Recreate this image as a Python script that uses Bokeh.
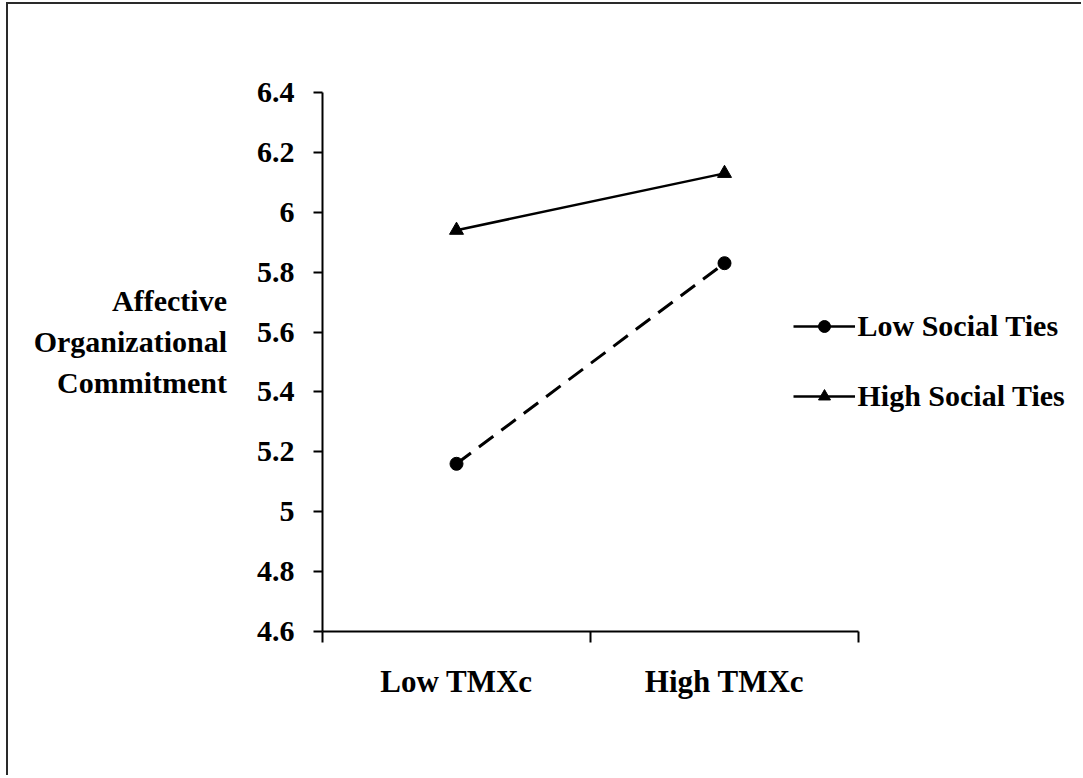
from bokeh.plotting import figure
from bokeh.models import Range1d, FixedTicker, Legend, LegendItem
from bokeh.embed import file_html
from bokeh.resources import INLINE

# ---- data ----
categories = ["Low TMXc", "High TMXc"]
series_names = ["Low Social Ties", "High Social Ties"]
low_social_ties = [5.16, 5.83]
high_social_ties = [5.94, 6.13]
y_ticks = [4.6, 4.8, 5.0, 5.2, 5.4, 5.6, 5.8, 6.0, 6.2, 6.4]
y_tick_labels = ["4.6", "4.8", "5", "5.2", "5.4", "5.6", "5.8", "6", "6.2", "6.4"]
y_title = "Affective\nOrganizational\nCommitment\n"

FONT = "Liberation Serif"

# layout (pixels); the figure is shifted by a CSS margin + border
SHIFT_X, SHIFT_Y = 8, 4
LEFT, TOP, BOTTOM = 322 - SHIFT_X, 92 - SHIFT_Y, 144
AXIS_W, FRAME_W, FRAME_H = 536, 759, 539

n = len(categories)
x_pos = [i + 0.5 for i in range(n)]
x_bounds = [float(i) for i in range(n + 1)]
x_end = n * FRAME_W / AXIS_W

p = figure(
    frame_width=FRAME_W, frame_height=FRAME_H,
    min_border_left=LEFT, min_border_right=0,
    min_border_top=TOP, min_border_bottom=BOTTOM,
    x_range=Range1d(0, x_end), y_range=Range1d(y_ticks[0], y_ticks[-1]),
    output_backend="svg", toolbar_location=None, tools="",
)
p.styles = {
    "margin-left": "5.5px", "margin-top": "2px",
    "border-left": "2.5px solid #2a2a2a", "border-top": "2px solid #2a2a2a",
}
p.grid.visible = False
p.outline_line_color = None
p.background_fill_color = "white"
p.border_fill_color = "white"

# x axis (category style, ticks between categories)
xa = p.xaxis[0]
xa.bounds = (0, n)
xa.ticker = FixedTicker(ticks=x_pos, minor_ticks=x_bounds)
xa.major_label_overrides = dict(zip(x_pos, categories))
xa.major_tick_line_color = None
xa.major_tick_out = 0
xa.major_tick_in = 0
xa.minor_tick_out = 11
xa.minor_tick_in = 0
xa.minor_tick_line_color = "black"
xa.minor_tick_line_width = 2
xa.axis_line_color = "black"
xa.axis_line_width = 2
xa.major_label_text_font = FONT
xa.major_label_text_font_style = "bold"
xa.major_label_text_font_size = "31px"
xa.major_label_text_color = "black"
xa.major_label_standoff = 21

# y axis
ya = p.yaxis[0]
ya.ticker = FixedTicker(ticks=y_ticks, minor_ticks=[])
ya.major_label_overrides = dict(zip(y_ticks, y_tick_labels))
ya.major_tick_out = 9
ya.major_tick_in = 0
ya.major_tick_line_color = "black"
ya.major_tick_line_width = 2
ya.axis_line_color = "black"
ya.axis_line_width = 2
ya.major_label_text_font = FONT
ya.major_label_text_font_style = "bold"
ya.major_label_text_font_size = "30px"
ya.major_label_text_color = "black"
ya.major_label_standoff = 19
ya.axis_label = y_title
ya.axis_label_orientation = "horizontal"
ya.axis_label_text_font = FONT
ya.axis_label_text_font_style = "bold"
ya.axis_label_text_font_size = "30px"
ya.axis_label_text_color = "black"
ya.axis_label_text_align = "center"
ya.axis_label_text_line_height = 1.25
ya.axis_label_standoff = 27

# series
l1 = p.line(x_pos, low_social_ties, line_color="black", line_width=3, line_dash="18 10")
s1 = p.scatter(x_pos, low_social_ties, marker="circle", size=13, fill_color="black", line_color="black")
l2 = p.line(x_pos, high_social_ties, line_color="black", line_width=2.5)
s2 = p.scatter(x_pos, high_social_ties, marker="triangle", size=14, fill_color="black", line_color="black")

# legend: both keys drawn with a solid line sample, as in the original
legend = Legend(
    items=[LegendItem(label=series_names[0], renderers=[l2, s1]),
           LegendItem(label=series_names[1], renderers=[l2, s2])],
    location=(471, 218),
    padding=0, margin=0, border_line_color=None, background_fill_alpha=0,
    glyph_width=62, glyph_height=30, label_height=30, spacing=36, label_standoff=3,
    label_text_font=FONT, label_text_font_style="bold", label_text_font_size="30px",
    label_text_color="black",
)
p.add_layout(legend)

open("out.html", "w").write(file_html(p, INLINE))
